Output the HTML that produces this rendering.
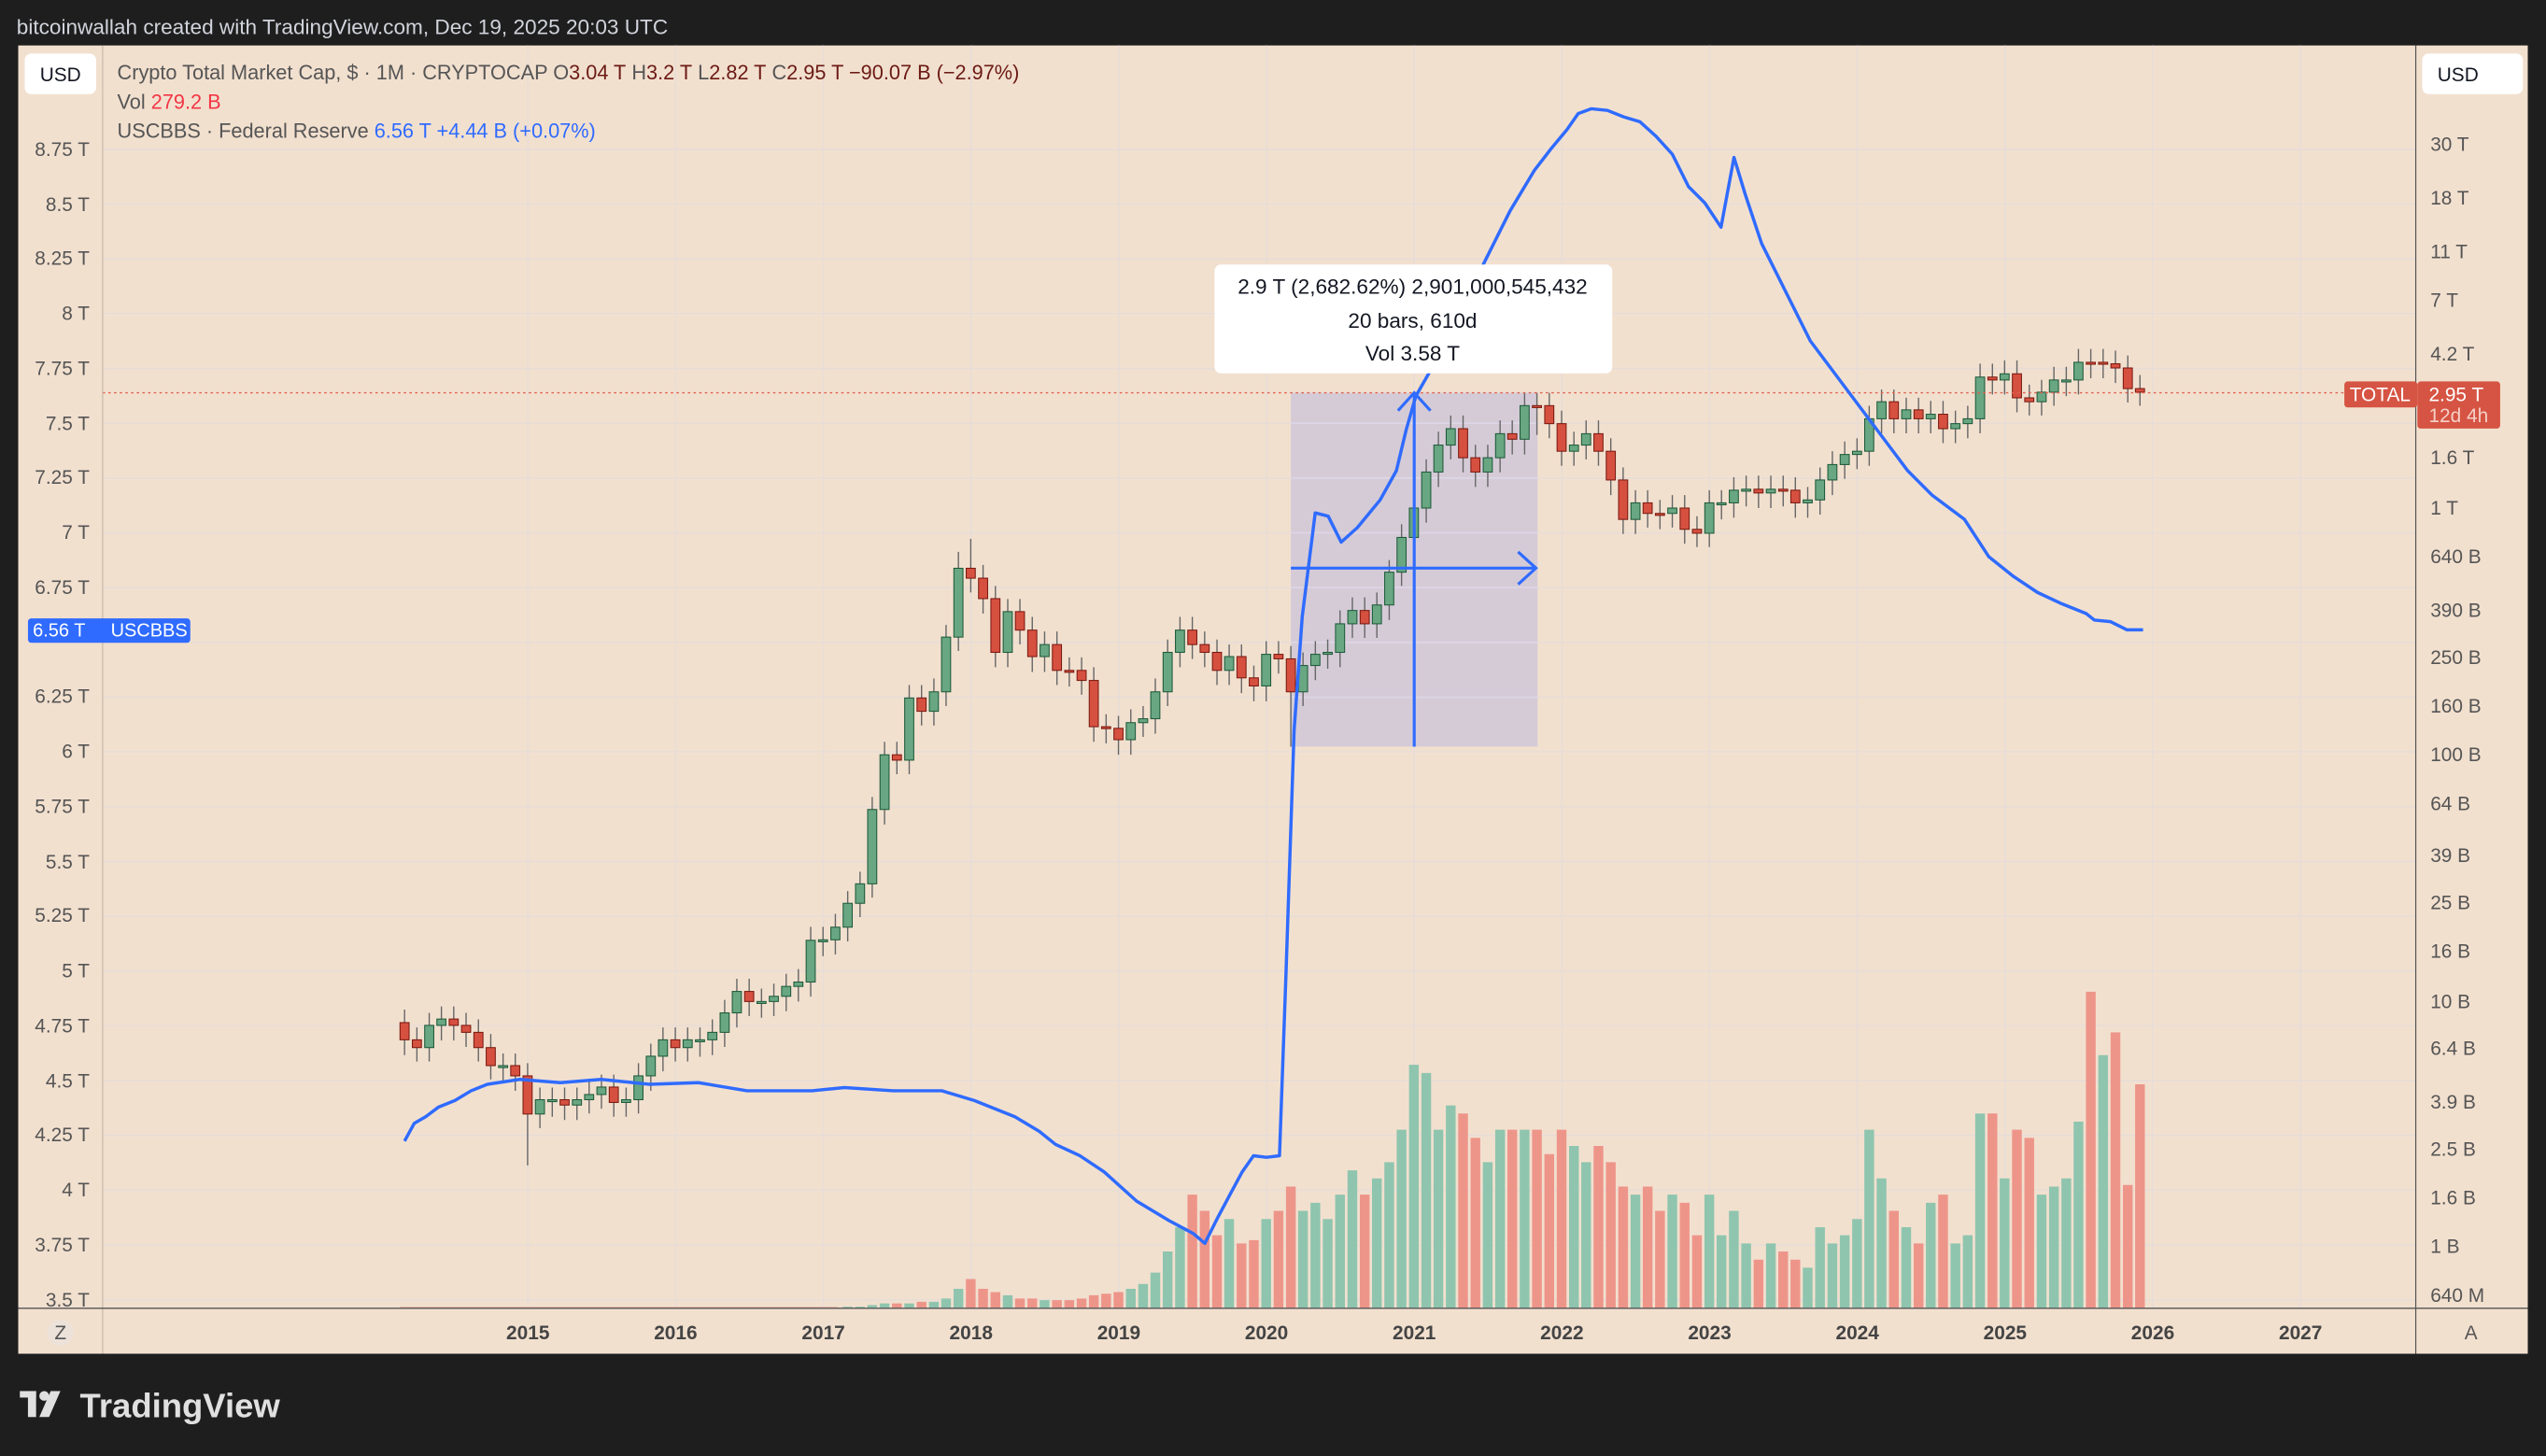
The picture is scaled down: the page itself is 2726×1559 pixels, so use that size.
<!DOCTYPE html>
<html><head><meta charset="utf-8">
<style>
html,body{margin:0;padding:0;background:#1e1e1e;}
svg{display:block;font-family:"Liberation Sans",sans-serif;}
.g rect{fill:#69a682;stroke:#1e5a3a;stroke-width:0.6;width:5.6px;}
.r rect{fill:#d65040;stroke:#7a1a10;stroke-width:0.6;width:5.6px;}
</style></head>
<body>
<svg width="2726" height="1559" viewBox="0 0 1568 897" xmlns="http://www.w3.org/2000/svg">
<rect x="0" y="0" width="1568" height="897" fill="#1e1e1e"/>
<text x="10" y="21" fill="#d1d4dc" font-size="13">bitcoinwallah created with TradingView.com, Dec 19, 2025 20:03 UTC</text>
<rect x="11" y="28" width="1546" height="806" fill="#f2e0cf"/>
<g stroke="#e8ddd6" stroke-width="1">
<path d="M63 92H1488M63 125.75H1488M63 159.5H1488M63 193.25H1488M63 227H1488M63 260.75H1488M63 294.5H1488M63 328.25H1488M63 362H1488M63 395.75H1488M63 429.5H1488M63 463.25H1488M63 497H1488M63 530.75H1488M63 564.5H1488M63 598.25H1488M63 632H1488M63 665.75H1488M63 699.5H1488M63 733.25H1488M63 767H1488M63 800.75H1488"/>
<path d="M325 28V806M416 28V806M507 28V806M598 28V806M689 28V806M780 28V806M871 28V806M962 28V806M1053 28V806M1144 28V806M1235 28V806M1326 28V806M1417 28V806"/>
</g>
<rect x="795" y="242" width="152" height="218" fill="#d5cbd7"/>
<path d="M795 260.75H947M795 294.5H947M795 328.25H947M795 362H947M795 395.75H947M795 429.5H947M871 242V460" stroke="#dcd6e6" stroke-width="1"/>
<!-- volume -->
<line x1="246" y1="805.5" x2="516" y2="805.5" stroke="#e8b8a8" stroke-width="1"/>
<path fill="#8fc5ae" d="M519 805h6V806h-6zM526.6 805h6V806h-6zM534.1 804h6V806h-6zM541.7 803h6V806h-6zM556.9 803h6V806h-6zM572.1 802h6V806h-6zM579.6 800h6V806h-6zM587.2 794h6V806h-6zM617.6 798h6V806h-6zM640.3 801h6V806h-6zM693.4 794h6V806h-6zM701 791h6V806h-6zM708.5 784h6V806h-6zM716.1 771h6V806h-6zM723.7 756h6V806h-6zM754 751h6V806h-6zM776.8 751h6V806h-6zM799.5 746h6V806h-6zM807.1 741h6V806h-6zM814.7 751h6V806h-6zM822.3 736h6V806h-6zM829.9 721h6V806h-6zM845 726h6V806h-6zM852.6 716h6V806h-6zM860.2 696h6V806h-6zM867.8 656h6V806h-6zM875.4 661h6V806h-6zM882.9 696h6V806h-6zM890.5 681h6V806h-6zM913.3 716h6V806h-6zM920.9 696h6V806h-6zM936 696h6V806h-6zM966.4 706h6V806h-6zM973.9 716h6V806h-6zM1004.3 736h6V806h-6zM1027 736h6V806h-6zM1049.8 736h6V806h-6zM1057.3 761h6V806h-6zM1064.9 746h6V806h-6zM1072.5 766h6V806h-6zM1087.7 766h6V806h-6zM1110.4 781h6V806h-6zM1118 756h6V806h-6zM1125.6 766h6V806h-6zM1133.2 761h6V806h-6zM1140.8 751h6V806h-6zM1148.3 696h6V806h-6zM1155.9 726h6V806h-6zM1171.1 756h6V806h-6zM1186.2 741h6V806h-6zM1201.4 766h6V806h-6zM1209 761h6V806h-6zM1216.6 686h6V806h-6zM1231.7 726h6V806h-6zM1254.5 736h6V806h-6zM1262.1 731h6V806h-6zM1269.7 726h6V806h-6zM1277.2 691h6V806h-6zM1292.4 650h6V806h-6z"/>
<path fill="#ee958a" d="M549.3 803h6V806h-6zM564.5 802h6V806h-6zM594.8 788h6V806h-6zM602.4 794h6V806h-6zM610 796h6V806h-6zM625.1 800h6V806h-6zM632.7 800h6V806h-6zM647.9 801h6V806h-6zM655.5 801h6V806h-6zM663.1 800h6V806h-6zM670.6 798h6V806h-6zM678.2 797h6V806h-6zM685.8 796h6V806h-6zM731.3 736h6V806h-6zM738.9 746h6V806h-6zM746.5 761h6V806h-6zM761.6 766h6V806h-6zM769.2 764h6V806h-6zM784.4 746h6V806h-6zM792 731h6V806h-6zM837.5 736h6V806h-6zM898.1 686h6V806h-6zM905.7 701h6V806h-6zM928.4 696h6V806h-6zM943.6 696h6V806h-6zM951.2 711h6V806h-6zM958.8 696h6V806h-6zM981.5 706h6V806h-6zM989.1 716h6V806h-6zM996.7 731h6V806h-6zM1011.8 731h6V806h-6zM1019.4 746h6V806h-6zM1034.6 741h6V806h-6zM1042.2 761h6V806h-6zM1080.1 776h6V806h-6zM1095.3 771h6V806h-6zM1102.8 776h6V806h-6zM1163.5 746h6V806h-6zM1178.7 766h6V806h-6zM1193.8 736h6V806h-6zM1224.2 686h6V806h-6zM1239.3 696h6V806h-6zM1246.9 701h6V806h-6zM1284.8 611h6V806h-6zM1300 636h6V806h-6zM1307.6 730h6V806h-6zM1315.1 668h6V806h-6z"/>
<!-- wicks -->
<path stroke="#666" stroke-width="0.8" fill="none" d="M249 622V650M256.6 633V654M264.2 624V654M271.7 620V641M279.3 620V641M286.9 624V645M294.5 628V654M302.1 637V665M309.7 649V667M317.2 649V672M324.8 655V718M332.4 670V695M340 670V688M347.6 670V690M355.2 670V690M362.7 666V686M370.3 662V683M377.9 662V688M385.5 670V688M393.1 655V686M400.7 643V672M408.2 633V660M415.8 633V654M423.4 633V654M431 633V651M438.6 628V650M446.2 616V645M453.7 603V633M461.3 603V626M468.9 609V627M476.5 606V626M484.1 600V623M491.6 597V617M499.2 571V614M506.8 571V589M514.4 563V588M522 549V580M529.6 537V565M537.1 491V553M544.7 457V508M552.3 457V477M559.9 422V477M567.5 422V447M575.1 418V447M582.6 385V435M590.2 340V401M597.8 332V365M605.4 348V378M613 361V411M620.6 369V411M628.1 369V397M635.7 380V414M643.3 389V414M650.9 389V422M658.5 405V423M666.1 405V428M673.6 411V457M681.2 440V458M688.8 441V465M696.4 437V465M704 435V454M711.5 418V452M719.1 394V435M726.7 380V411M734.3 380V406M741.9 389V411M749.5 394V422M757 397V422M764.6 397V427M772.2 410V432M779.8 395V432M787.4 395V415M795 398V460M802.5 402V435M810.1 395V419M817.7 394V412M825.3 376V411M832.9 368V393M840.5 368V393M848 365V393M855.6 345V382M863.2 323V361M870.8 305V340M878.4 283V322M885.9 266V300M893.5 256V283M901.1 256V291M908.7 274V300M916.3 274V300M923.9 259V291M931.4 259V280M939 242V280M946.6 242V268M954.2 242V270M961.8 253V287M969.4 266V287M976.9 259V283M984.5 259V287M992.1 270V305M999.7 288V329M1007.3 302V329M1014.8 302V325M1022.4 308V326M1030 305V325M1037.6 305V335M1045.2 318V337M1052.8 302V337M1060.3 302V320M1067.9 294V319M1075.5 293V312M1083.1 293V313M1090.7 293V313M1098.3 293V312M1105.8 294V319M1113.4 300V319M1121 288V317M1128.6 278V305M1136.2 272V295M1143.8 270V289M1151.3 250V287M1158.9 240V267M1166.5 240V267M1174.1 245V267M1181.7 245V267M1189.2 247V267M1196.8 247V273M1204.4 253V273M1212 250V270M1219.6 224V267M1227.2 224V243M1234.7 222V243M1242.3 222V254M1249.9 237V256M1257.5 234V256M1265.1 226V250M1272.7 226V244M1280.2 215V243M1287.8 215V233M1295.4 215V233M1303 216V236M1310.6 219V248M1318.1 231V250"/>
<g class="g">
<rect x="261.4" y="631.7" width="5.6" height="13.7"/><rect x="268.9" y="627.8" width="5.6" height="3.9"/><rect x="306.9" y="656.5" width="5.6" height="1.2"/><rect x="329.6" y="677.5" width="5.6" height="8.8"/><rect x="337.2" y="677.5" width="5.6" height="1.2"/><rect x="352.4" y="677.5" width="5.6" height="3.3"/><rect x="359.9" y="674.3" width="5.6" height="3.2"/><rect x="367.5" y="669.7" width="5.6" height="4.6"/><rect x="382.7" y="677.5" width="5.6" height="1.7"/><rect x="390.3" y="662.8" width="5.6" height="14.7"/><rect x="397.9" y="650.7" width="5.6" height="12.1"/><rect x="405.4" y="640.6" width="5.6" height="10.1"/><rect x="420.6" y="640.6" width="5.6" height="4.8"/><rect x="428.2" y="640.6" width="5.6" height="1.2"/><rect x="435.8" y="636" width="5.6" height="4.6"/><rect x="443.4" y="624" width="5.6" height="12"/><rect x="450.9" y="610.8" width="5.6" height="13.2"/><rect x="466.1" y="617" width="5.6" height="1.2"/><rect x="473.7" y="613.8" width="5.6" height="3.2"/><rect x="481.3" y="607.7" width="5.6" height="6.1"/><rect x="488.8" y="605" width="5.6" height="2.7"/><rect x="496.4" y="579.3" width="5.6" height="25.7"/><rect x="504" y="579" width="5.6" height="1.2"/><rect x="511.6" y="571.2" width="5.6" height="7.8"/><rect x="519.2" y="556.5" width="5.6" height="14.7"/><rect x="526.8" y="544.5" width="5.6" height="12"/><rect x="534.3" y="498.7" width="5.6" height="45.8"/><rect x="541.9" y="465" width="5.6" height="33.7"/><rect x="557.1" y="430" width="5.6" height="38.3"/><rect x="572.3" y="426.2" width="5.6" height="12"/><rect x="579.8" y="392.5" width="5.6" height="33.7"/><rect x="587.4" y="350.1" width="5.6" height="42.4"/><rect x="617.8" y="376.8" width="5.6" height="25.1"/><rect x="640.5" y="397.1" width="5.6" height="7.4"/><rect x="693.6" y="445.2" width="5.6" height="10.5"/><rect x="701.2" y="442.8" width="5.6" height="2.4"/><rect x="708.7" y="426.2" width="5.6" height="16.6"/><rect x="716.3" y="401.9" width="5.6" height="24.3"/><rect x="723.9" y="388.2" width="5.6" height="13.7"/><rect x="754.2" y="404.5" width="5.6" height="8.5"/><rect x="777" y="403.1" width="5.6" height="19.5"/><rect x="799.7" y="410" width="5.6" height="16.2"/><rect x="807.3" y="403.1" width="5.6" height="6.9"/><rect x="814.9" y="401.9" width="5.6" height="1.2"/><rect x="822.5" y="384.3" width="5.6" height="17.6"/><rect x="830.1" y="376.1" width="5.6" height="8.2"/><rect x="845.2" y="372.7" width="5.6" height="11.6"/><rect x="852.8" y="352.5" width="5.6" height="20.2"/><rect x="860.4" y="331.1" width="5.6" height="21.4"/><rect x="868" y="313" width="5.6" height="18.1"/><rect x="875.6" y="290.8" width="5.6" height="22.2"/><rect x="883.1" y="274.2" width="5.6" height="16.6"/><rect x="890.7" y="264.1" width="5.6" height="10.1"/><rect x="913.5" y="282" width="5.6" height="8.8"/><rect x="921.1" y="267.2" width="5.6" height="14.8"/><rect x="936.2" y="249.9" width="5.6" height="20.7"/><rect x="966.6" y="274.2" width="5.6" height="3.8"/><rect x="974.1" y="267.2" width="5.6" height="7"/><rect x="1004.5" y="309.8" width="5.6" height="10.2"/><rect x="1027.2" y="313" width="5.6" height="3.3"/><rect x="1050" y="309.8" width="5.6" height="18.7"/><rect x="1057.5" y="309.8" width="5.6" height="1.2"/><rect x="1065.1" y="302" width="5.6" height="7.8"/><rect x="1072.7" y="301.4" width="5.6" height="1.2"/><rect x="1087.9" y="301.4" width="5.6" height="2.3"/><rect x="1110.6" y="308" width="5.6" height="1.8"/><rect x="1118.2" y="295.7" width="5.6" height="12.3"/><rect x="1125.8" y="286.2" width="5.6" height="9.5"/><rect x="1133.4" y="280" width="5.6" height="6.2"/><rect x="1141" y="278" width="5.6" height="2"/><rect x="1148.5" y="258" width="5.6" height="20"/><rect x="1156.1" y="247.5" width="5.6" height="10.5"/><rect x="1171.3" y="252.5" width="5.6" height="5.5"/><rect x="1186.4" y="255.2" width="5.6" height="2.8"/><rect x="1201.6" y="261" width="5.6" height="3.1"/><rect x="1209.2" y="258" width="5.6" height="3"/><rect x="1216.8" y="232.3" width="5.6" height="25.7"/><rect x="1231.9" y="230.3" width="5.6" height="3.8"/><rect x="1254.7" y="241.6" width="5.6" height="5.9"/><rect x="1262.3" y="234.1" width="5.6" height="7.5"/><rect x="1269.9" y="234.1" width="5.6" height="1.2"/><rect x="1277.4" y="223.2" width="5.6" height="10.9"/>
</g>
<g class="r">
<rect x="246.2" y="630" width="5.6" height="10.6"/><rect x="253.8" y="640.6" width="5.6" height="4.8"/><rect x="276.5" y="627.8" width="5.6" height="3.9"/><rect x="284.1" y="631.7" width="5.6" height="4.3"/><rect x="291.7" y="636" width="5.6" height="9.4"/><rect x="299.3" y="645.4" width="5.6" height="11.1"/><rect x="314.4" y="656.5" width="5.6" height="6.3"/><rect x="322" y="662.8" width="5.6" height="23.5"/><rect x="344.8" y="677.5" width="5.6" height="3.3"/><rect x="375.1" y="669.7" width="5.6" height="9.5"/><rect x="413" y="640.6" width="5.6" height="4.8"/><rect x="458.5" y="610.8" width="5.6" height="6.2"/><rect x="549.5" y="465" width="5.6" height="3.3"/><rect x="564.7" y="430" width="5.6" height="8.2"/><rect x="595" y="350.1" width="5.6" height="6.1"/><rect x="602.6" y="356.2" width="5.6" height="12.6"/><rect x="610.2" y="368.8" width="5.6" height="33.1"/><rect x="625.3" y="376.8" width="5.6" height="11.4"/><rect x="632.9" y="388.2" width="5.6" height="16.3"/><rect x="648.1" y="397.1" width="5.6" height="15.9"/><rect x="655.7" y="413" width="5.6" height="1.2"/><rect x="663.3" y="413" width="5.6" height="6.2"/><rect x="670.8" y="419.2" width="5.6" height="28.5"/><rect x="678.4" y="447.7" width="5.6" height="1.2"/><rect x="686" y="448.7" width="5.6" height="7"/><rect x="731.5" y="388.2" width="5.6" height="8.9"/><rect x="739.1" y="397.1" width="5.6" height="4.8"/><rect x="746.7" y="401.9" width="5.6" height="11.1"/><rect x="761.8" y="404.5" width="5.6" height="13.1"/><rect x="769.4" y="417.6" width="5.6" height="5"/><rect x="784.6" y="403.1" width="5.6" height="2.8"/><rect x="792.2" y="405.9" width="5.6" height="20.3"/><rect x="837.7" y="376.1" width="5.6" height="8.2"/><rect x="898.3" y="264.1" width="5.6" height="17.9"/><rect x="905.9" y="282" width="5.6" height="8.8"/><rect x="928.6" y="267.2" width="5.6" height="3.4"/><rect x="943.8" y="249.9" width="5.6" height="1.2"/><rect x="951.4" y="249.9" width="5.6" height="11.1"/><rect x="959" y="261" width="5.6" height="17"/><rect x="981.7" y="267.2" width="5.6" height="10.8"/><rect x="989.3" y="278" width="5.6" height="17.7"/><rect x="996.9" y="295.7" width="5.6" height="24.3"/><rect x="1012" y="309.8" width="5.6" height="6.5"/><rect x="1019.6" y="316.3" width="5.6" height="1.2"/><rect x="1034.8" y="313" width="5.6" height="13.1"/><rect x="1042.4" y="326.1" width="5.6" height="2.4"/><rect x="1080.3" y="301.4" width="5.6" height="2.3"/><rect x="1095.5" y="301.4" width="5.6" height="1.2"/><rect x="1103" y="302" width="5.6" height="7.8"/><rect x="1163.7" y="247.5" width="5.6" height="10.5"/><rect x="1178.9" y="252.5" width="5.6" height="5.5"/><rect x="1194" y="255.2" width="5.6" height="8.9"/><rect x="1224.4" y="232.3" width="5.6" height="1.8"/><rect x="1239.5" y="230.3" width="5.6" height="14.8"/><rect x="1247.1" y="245.1" width="5.6" height="2.4"/><rect x="1285" y="223.2" width="5.6" height="1.2"/><rect x="1292.6" y="223.2" width="5.6" height="1.2"/><rect x="1300.2" y="224.1" width="5.6" height="2.6"/><rect x="1307.8" y="226.7" width="5.6" height="12.7"/><rect x="1315.3" y="239.4" width="5.6" height="2.2"/>
</g>
<line x1="63" y1="242" x2="1488" y2="242" stroke="#e06050" stroke-width="0.8" stroke-dasharray="1.5,2"/>
<polyline fill="none" stroke="#2f6bff" stroke-width="2" stroke-linejoin="round" points="249,703 255,692 262,688 270,682 280,678 290,672 300,668 320,665 345,667 370,665 400,668 430,667 460,672 500,672 520,670 550,672 580,672 600,678 625,688 640,697 650,705 665,712 680,722 700,740 720,752 735,760 742,766 750,750 758,735 765,722 772,712 780,713 788,712 792,600 797,450 802,380 810,316 818,318 826,334 836,325 850,308 860,290 866,265 872,244 880,230 890,210 900,190 915,160 930,130 945,105 955,92 965,80 972,70 980,67 990,68 1000,72 1010,75 1020,84 1030,95 1040,115 1050,125 1060,140 1068,97 1075,120 1085,150 1100,180 1115,210 1130,230 1145,250 1160,270 1175,290 1190,305 1210,320 1225,343 1240,355 1255,365 1270,372 1285,378 1290,382 1300,383 1310,388 1320,388"/>
<g stroke="#2f6bff" stroke-width="1.8" fill="none">
<line x1="795" y1="350" x2="946" y2="350"/>
<polyline points="935,340 946,350 935,360"/>
<line x1="871" y1="460" x2="871" y2="242"/>
<polyline points="861,253 871,242 881,253"/>
</g>
<rect x="748" y="163" width="245" height="67" rx="4" fill="#ffffff"/>
<g font-size="13" fill="#131722" text-anchor="middle">
<text x="870" y="181">2.9 T (2,682.62%) 2,901,000,545,432</text>
<text x="870" y="202">20 bars, 610d</text>
<text x="870" y="222">Vol 3.58 T</text>
</g>
<line x1="63" y1="28" x2="63" y2="834" stroke="#c8b8a8" stroke-width="0.7"/>
<line x1="1488" y1="28" x2="1488" y2="834" stroke="#555" stroke-width="0.7"/>
<line x1="11" y1="806" x2="1557" y2="806" stroke="#555" stroke-width="0.8"/>
<g font-size="12" fill="#555" text-anchor="end">
<text x="55" y="96">8.75 T</text><text x="55" y="130">8.5 T</text><text x="55" y="163">8.25 T</text><text x="55" y="197">8 T</text><text x="55" y="231">7.75 T</text><text x="55" y="265">7.5 T</text><text x="55" y="298">7.25 T</text><text x="55" y="332">7 T</text><text x="55" y="366">6.75 T</text><text x="55" y="433">6.25 T</text><text x="55" y="467">6 T</text><text x="55" y="501">5.75 T</text><text x="55" y="535">5.5 T</text><text x="55" y="568">5.25 T</text><text x="55" y="602">5 T</text><text x="55" y="636">4.75 T</text><text x="55" y="670">4.5 T</text><text x="55" y="703">4.25 T</text><text x="55" y="737">4 T</text><text x="55" y="771">3.75 T</text><text x="55" y="805">3.5 T</text>
</g>
<g font-size="12" fill="#555">
<text x="1497" y="93">30 T</text><text x="1497" y="126">18 T</text><text x="1497" y="159">11 T</text><text x="1497" y="189">7 T</text><text x="1497" y="222">4.2 T</text><text x="1497" y="286">1.6 T</text><text x="1497" y="317">1 T</text><text x="1497" y="347">640 B</text><text x="1497" y="380">390 B</text><text x="1497" y="409">250 B</text><text x="1497" y="439">160 B</text><text x="1497" y="469">100 B</text><text x="1497" y="499">64 B</text><text x="1497" y="531">39 B</text><text x="1497" y="560">25 B</text><text x="1497" y="590">16 B</text><text x="1497" y="621">10 B</text><text x="1497" y="650">6.4 B</text><text x="1497" y="683">3.9 B</text><text x="1497" y="712">2.5 B</text><text x="1497" y="742">1.6 B</text><text x="1497" y="772">1 B</text><text x="1497" y="802">640 M</text>
</g>
<g font-size="12" fill="#444" font-weight="bold" text-anchor="middle">
<text x="325" y="825">2015</text><text x="416" y="825">2016</text><text x="507" y="825">2017</text><text x="598" y="825">2018</text><text x="689" y="825">2019</text><text x="780" y="825">2020</text><text x="871" y="825">2021</text><text x="962" y="825">2022</text><text x="1053" y="825">2023</text><text x="1144" y="825">2024</text><text x="1235" y="825">2025</text><text x="1326" y="825">2026</text><text x="1417" y="825">2027</text>
</g>
<rect x="15" y="33" width="44" height="25" rx="4" fill="#fff"/>
<text x="37" y="50" font-size="12" fill="#131722" text-anchor="middle">USD</text>
<rect x="1492" y="33" width="62" height="25" rx="4" fill="#fff"/>
<text x="1514" y="50" font-size="12" fill="#131722" text-anchor="middle">USD</text>
<text x="72" y="49" font-size="12.5" fill="#555">Crypto Total Market Cap, $ · 1M · CRYPTOCAP  O<tspan fill="#6b1a14">3.04 T</tspan>  H<tspan fill="#6b1a14">3.2 T</tspan>  L<tspan fill="#6b1a14">2.82 T</tspan>  C<tspan fill="#6b1a14">2.95 T  −90.07 B (−2.97%)</tspan></text>
<text x="72" y="67" font-size="12.5" fill="#555">Vol  <tspan fill="#f23645">279.2 B</tspan></text>
<text x="72" y="85" font-size="12.5" fill="#555">USCBBS · Federal Reserve  <tspan fill="#2f6bff">6.56 T  +4.44 B (+0.07%)</tspan></text>
<rect x="1444" y="235" width="45" height="16" rx="2" fill="#d65443"/>
<text x="1466" y="247" font-size="12" fill="#fff" text-anchor="middle">TOTAL</text>
<rect x="1489" y="235" width="51" height="29" rx="2" fill="#d65443"/>
<text x="1496" y="247" font-size="12" fill="#fff">2.95 T</text>
<text x="1496" y="260" font-size="12" fill="#f5d0c8">12d 4h</text>
<rect x="17" y="381" width="100" height="15" rx="2" fill="#2f6bff"/>
<text x="20" y="392" font-size="11.5" fill="#fff">6.56 T</text>
<text x="68" y="392" font-size="11.5" fill="#fff">USCBBS</text>
<circle cx="37" cy="821" r="8" fill="#ece2da"/>
<text x="37" y="825" font-size="12" fill="#555" text-anchor="middle">Z</text>
<text x="1522" y="825" font-size="12" fill="#555" text-anchor="middle">A</text>
<g fill="#e0e0e0">
<rect x="12" y="857" width="10" height="4"/><rect x="17" y="857" width="5" height="16"/>
<circle cx="27" cy="860" r="3"/><polygon points="31,857 37,857 30,873 24,873"/>
</g>
<text x="49" y="873" font-size="21" font-weight="bold" fill="#e0e0e0">TradingView</text>
</svg>
</body></html>
